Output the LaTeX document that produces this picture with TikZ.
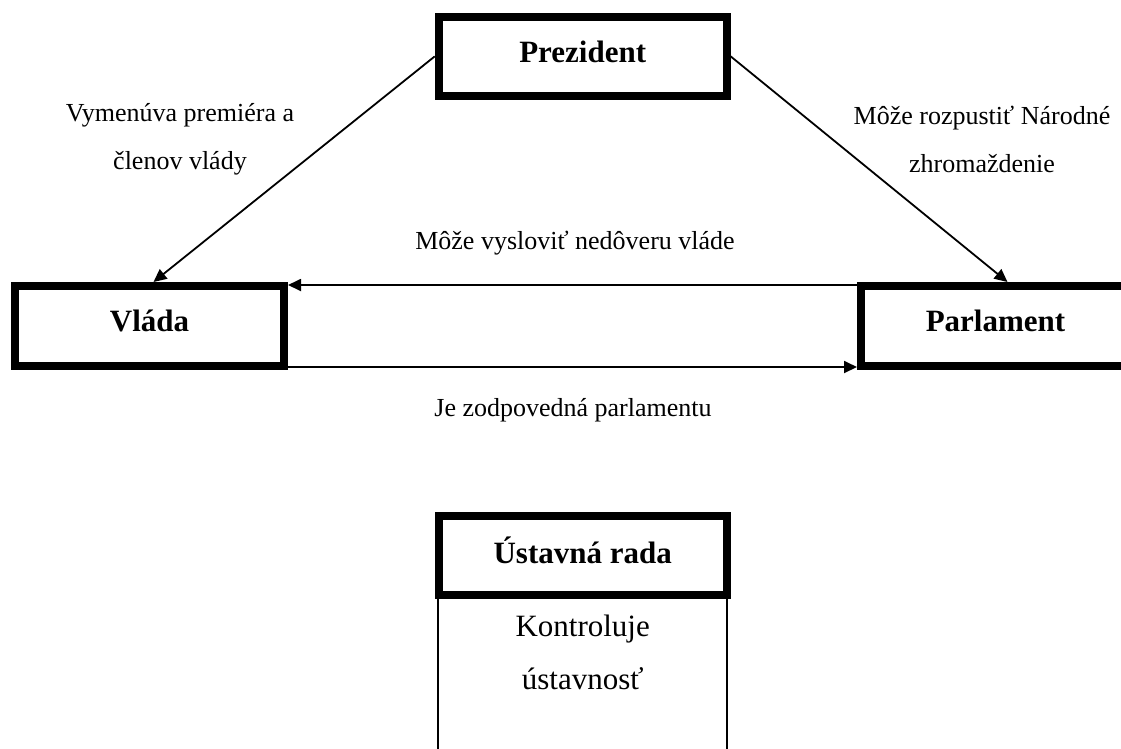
\documentclass[tikz,border=0pt]{standalone}
\usepackage{fontspec}
\setmainfont{Liberation Serif}
\usetikzlibrary{arrows.meta}
\begin{document}
\begin{tikzpicture}[x=1pt,y=-1pt,
  box/.style={draw, line width=8pt, inner sep=0pt, text depth=10pt,
    font=\fontsize{31}{37}\selectfont\bfseries},
  lbl/.style={align=center, inner sep=0pt, font=\fontsize{26}{48}\selectfont},
  conn/.style={line width=1.8pt, -{Triangle[length=13pt,width=12pt]}},
  thinline/.style={line width=2pt}]
\clip (0,0) rectangle (1121,748);
\fill[white] (0,0) rectangle (1121,748);
% boxes
\node[box, minimum width=288pt, minimum height=79pt] (pres) at (582.7,56.4) {Prezident};
\node[box, minimum width=269pt, minimum height=80pt] (vlada) at (149.5,326) {Vláda};
\node[box, minimum width=269pt, minimum height=80pt] (parl) at (995.5,326) {Parlament};
\node[box, minimum width=288pt, minimum height=79pt] (ur) at (582.7,555.4) {Ústavná rada};
\node[minimum width=289pt, minimum height=170pt, inner sep=0pt, outer sep=0pt, anchor=north] (body) at (ur.south) {};
\draw[thinline] (body.north west) -- (body.south west);
\draw[thinline] (body.north east) -- (body.south east);
\node[align=center, inner sep=0pt, font=\fontsize{31}{53}\selectfont] (urtext) at (582.7,652) {Kontroluje\\ústavnosť};
% connectors
\draw[conn] (pres.west) -- ([xshift=4pt]vlada.north);
\draw[conn] (pres.east) -- ([xshift=12pt]parl.north);
\draw[conn] ([yshift=-3pt]parl.north west) -- ([yshift=-3pt]vlada.north east);
\draw[conn] ([yshift=3pt]vlada.south east) -- ([yshift=3pt]parl.south west);
% labels
\node[lbl] (l1) at (180,139) {Vymenúva premiéra a\\členov vlády};
\node[lbl] (l2) at (982,139) {Môže rozpustiť Národné\\zhromaždenie};
\node[lbl] (l3) at (575,243) {Môže vysloviť nedôveru vláde};
\node[lbl] (l4) at (573,410) {Je zodpovedná parlamentu};
\end{tikzpicture}
\end{document}
